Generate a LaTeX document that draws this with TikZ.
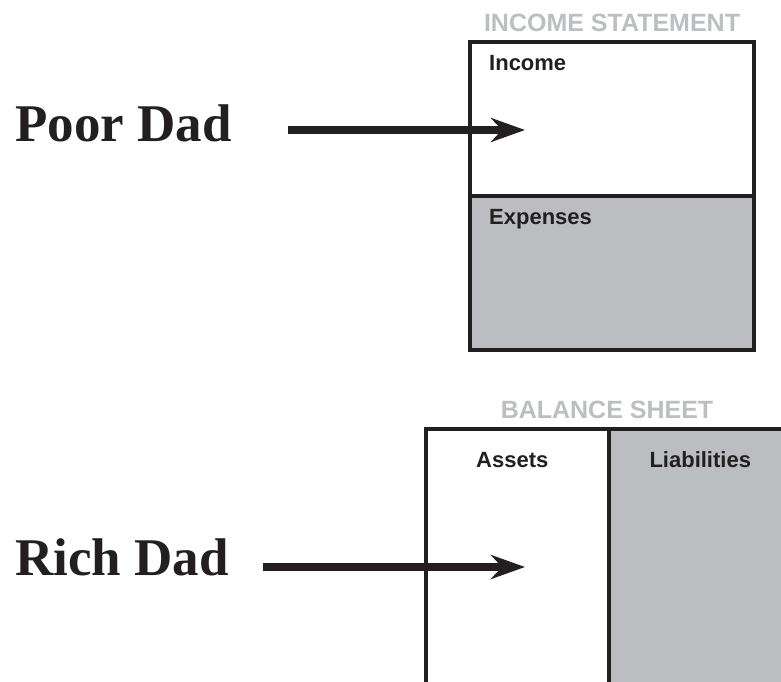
\documentclass[tikz,border=0pt]{standalone}
\usepackage{fontspec}
\setmainfont{Liberation Serif}
\setsansfont{Liberation Sans}
\usetikzlibrary{arrows.meta, positioning}
\definecolor{inkDark}{HTML}{231F20}
\definecolor{sheetGrey}{HTML}{BCBDC0}
\definecolor{capGrey}{HTML}{BCBEC0}

\begin{document}
\begin{tikzpicture}[x=1pt, y=-1pt,
  dad/.style={font=\bfseries\fontsize{53}{60}\selectfont, text=inkDark, inner sep=0pt, anchor=base west},
  heading/.style={font=\sffamily\bfseries\fontsize{25}{30}\selectfont, text=capGrey, inner sep=0pt, anchor=base},
  entry/.style={font=\sffamily\bfseries\fontsize{22}{26}\selectfont, text=inkDark, inner sep=0pt, anchor=base west},
  panel/.style={draw=inkDark, line width=4pt, rectangle, anchor=north west, inner sep=0pt, outer sep=0pt},
  brush/.style={draw=inkDark, line width=8pt, -{Stealth[length=34pt, width=24pt, inset=11pt]}},
]
  \useasboundingbox (0,0) rectangle (781,682);
  \clip (0,0) rectangle (781,682);

  \node[dad] (poor) at (15,141.7) {Poor Dad};
  \node[dad] (rich) at (15,575) {Rich Dad};

  \coordinate (poorTail) at (288,130);
  \coordinate (poorTip) at (525,130);
  \coordinate (richTail) at (263,567);
  \coordinate (richTip) at (525,567);

  \node[panel, fill=sheetGrey, minimum width=284.5pt, minimum height=154pt] (expenses) at (469.5,196) {};
  \draw[brush] (poorTail) -- (poorTip);
  \draw[brush] (richTail) -- (richTip);

  \node[panel, minimum width=284.5pt, minimum height=154pt, anchor=south west] (income) at (expenses.north west) {};
  \node[panel, minimum width=182.5pt, minimum height=300pt] (assets) at (426,429) {};
  \node[panel, fill=sheetGrey, minimum width=183.5pt, minimum height=300pt] (liabilities) at (assets.north east) {};

  \node[heading] (incomeHead) at (612,31.7) {INCOME STATEMENT};
  \node[heading] (balanceHead) at (607,418.3) {BALANCE SHEET};
  \node[entry] (incomeLbl) at ([xshift=19.5pt, yshift=-28.3pt]income.north west) {Income};
  \node[entry] (expensesLbl) at ([xshift=19.5pt, yshift=-28.3pt]expenses.north west) {Expenses};
  \node[entry, anchor=base] (assetsLbl) at ([xshift=-5pt, yshift=-38pt]assets.north) {Assets};
  \node[entry, anchor=base] (liabLbl) at ([yshift=-38pt]liabilities.north) {Liabilities};
\end{tikzpicture}
\end{document}
